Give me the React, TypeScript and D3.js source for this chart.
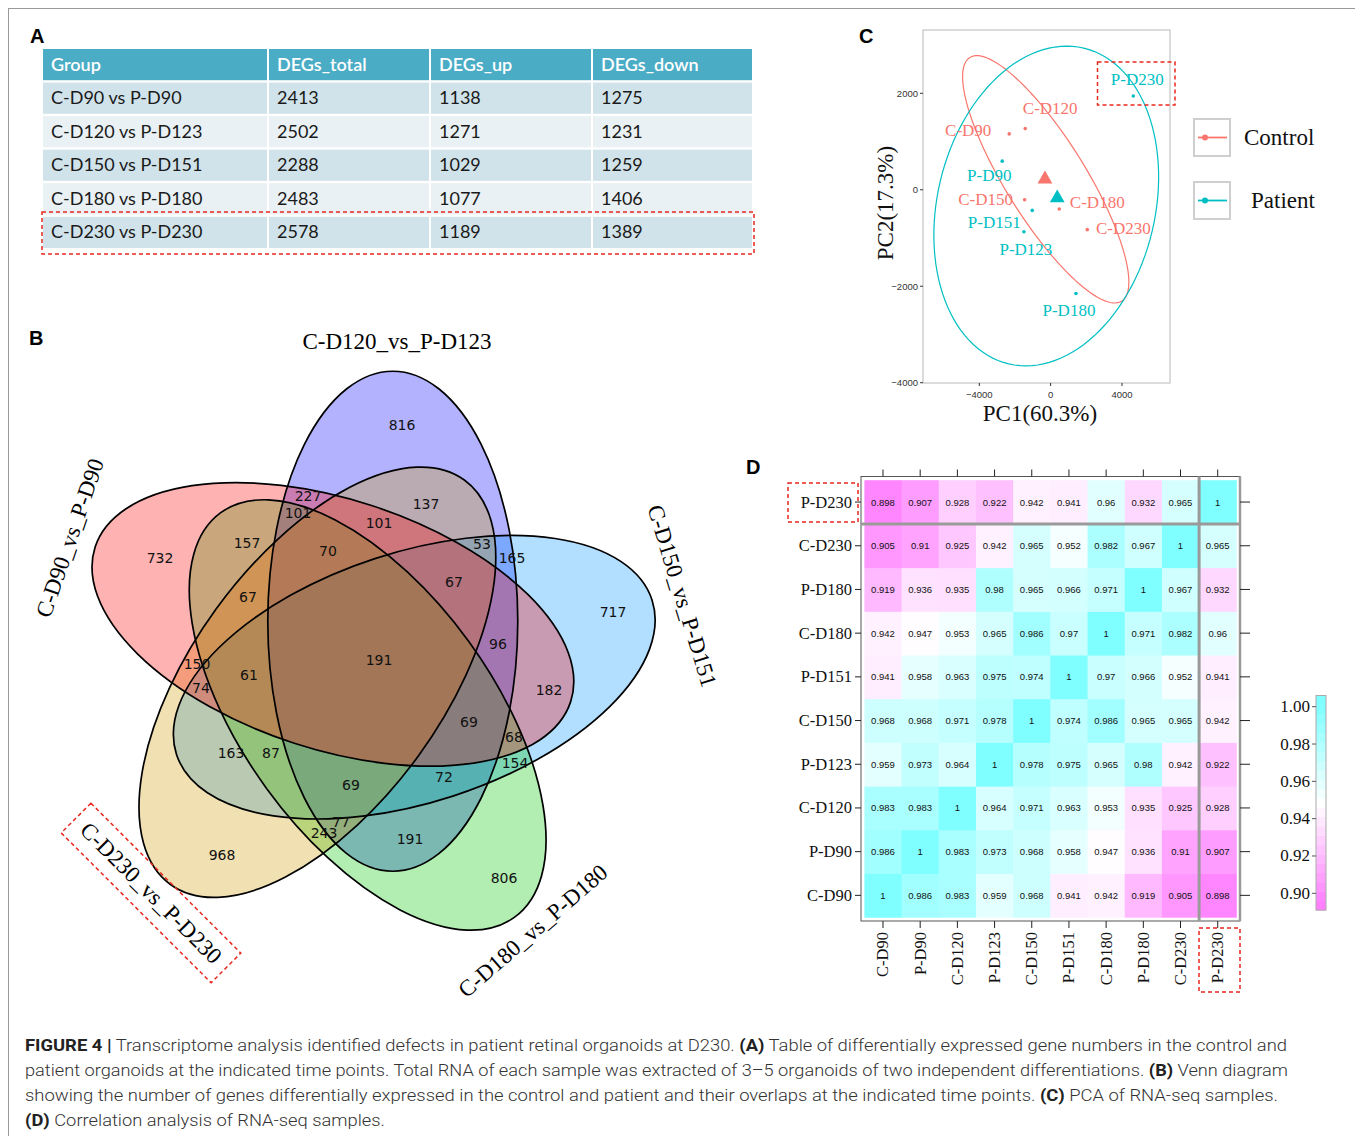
import React from 'react';
import * as d3 from 'd3';

const SERIF = "'Liberation Serif', 'Times New Roman', serif";
const SANS = "'Liberation Sans', Arial, sans-serif";
const DASH_RED = '#e8281e';

// ---------- Panel A: DEG table
const tableHeaders = ['Group', 'DEGs_total', 'DEGs_up', 'DEGs_down'];
const degGroups = ['C-D90 vs P-D90', 'C-D120 vs P-D123', 'C-D150 vs P-D151', 'C-D180 vs P-D180', 'C-D230 vs P-D230'];
const degTotal = [2413, 2502, 2288, 2483, 2578];
const degUp = [1138, 1271, 1029, 1077, 1189];
const degDown = [1275, 1231, 1259, 1406, 1389];

// ---------- Panel B: five-set Venn
const vennSets = ['C-D90_vs_P-D90', 'C-D120_vs_P-D123', 'C-D150_vs_P-D151', 'C-D180_vs_P-D180', 'C-D230_vs_P-D230'];
const vennCounts = [732, 816, 717, 806, 968, 227, 101, 137, 101, 70, 53, 165, 67, 96, 191, 157, 67, 150, 61, 74, 163, 87, 69, 77, 243, 191, 72, 69, 68, 154, 182];

// ---------- Panel C: PCA
const pcaSamples = ['C-D90', 'C-D120', 'C-D150', 'C-D180', 'C-D230', 'P-D90', 'P-D123', 'P-D151', 'P-D180', 'P-D230'];
const pcaGroup = ['Control', 'Control', 'Control', 'Control', 'Control', 'Patient', 'Patient', 'Patient', 'Patient', 'Patient'];
const pc1 = [-2323, -1425, -1459, 483, 2053, -2715, -1498, -1032, 1419, 4634];
const pc2 = [1158, 1268, -207, -400, -827, 593, -869, -428, -2151, 1944];
const groups = ['Control', 'Patient'];
const centroidPc1 = [-320, 370];
const centroidPc2 = [221, -172];
const pcaXTicks = [-4000, 0, 4000];
const pcaYTicks = [-4000, -2000, 0, 2000];

// ---------- Panel D: correlation heatmap
const hmSamples = ['C-D90', 'P-D90', 'C-D120', 'P-D123', 'C-D150', 'P-D151', 'C-D180', 'P-D180', 'C-D230', 'P-D230'];
const corr = [
  [1, 0.986, 0.983, 0.959, 0.968, 0.941, 0.942, 0.919, 0.905, 0.898],
  [0.986, 1, 0.983, 0.973, 0.968, 0.958, 0.947, 0.936, 0.91, 0.907],
  [0.983, 0.983, 1, 0.964, 0.971, 0.963, 0.953, 0.935, 0.925, 0.928],
  [0.959, 0.973, 0.964, 1, 0.978, 0.975, 0.965, 0.98, 0.942, 0.922],
  [0.968, 0.968, 0.971, 0.978, 1, 0.974, 0.986, 0.965, 0.965, 0.942],
  [0.941, 0.958, 0.963, 0.975, 0.974, 1, 0.97, 0.966, 0.952, 0.941],
  [0.942, 0.947, 0.953, 0.965, 0.986, 0.97, 1, 0.971, 0.982, 0.96],
  [0.919, 0.936, 0.935, 0.98, 0.965, 0.966, 0.971, 1, 0.967, 0.932],
  [0.905, 0.91, 0.925, 0.942, 0.965, 0.952, 0.982, 0.967, 1, 0.965],
  [0.898, 0.907, 0.928, 0.922, 0.942, 0.941, 0.96, 0.932, 0.965, 1],
];
const colorbarTicks = [0.9, 0.92, 0.94, 0.96, 0.98, 1.0];

// ---------- layout (positions / styles, kept apart from the data)
const tableCols = [43, 269, 431, 593, 754];
const vennCenter = { x: 365, y: 664 };
const vennOffset = 51;
const vennRx = 250;
const vennRy = 125;
const vennFill = ['rgb(255,0,0)', 'rgb(0,0,255)', 'rgb(0,150,255)', 'rgb(0,200,0)', 'rgb(205,152,0)'];
const vennDrawOrder = [1, 2, 3, 4, 0];
const vennLabelXY = [
  [160, 558], [402, 425], [613, 612], [504, 878], [222, 855], [308, 496], [298, 513], [426, 504],
  [379, 523], [328, 551], [482, 544], [512, 558], [454, 582], [498, 644], [379, 660], [247, 543],
  [248, 597], [197, 664], [249, 675], [201, 688], [231, 753], [271, 753], [351, 785], [341, 822],
  [324, 833], [410, 839], [444, 777], [469, 722], [514, 737], [515, 763], [549, 690],
];
const vennNamePos = [
  { x: 70, y: 538, r: -71 },
  { x: 397, y: 341, r: 0 },
  { x: 682, y: 596, r: 73 },
  { x: 533, y: 931, r: -41 },
  { x: 151, y: 893, r: 45 },
];
const pcaLabelOffset = [
  [-41, -3], [25, -20], [-39, 0], [38, -7], [36, -1],
  [-13, 14], [2, 18], [-38, 12], [-7, 17], [4, -17],
];
const groupColor = { Control: '#f8766d', Patient: '#00bfc4' };

function ellipsePath(
  cx: number, cy: number, ux: number, uy: number, vx: number, vy: number,
  sx: d3.ScaleLinear<number, number>, sy: d3.ScaleLinear<number, number>,
) {
  const pts = d3.range(0, 361, 3).map((deg) => {
    const t = (deg * Math.PI) / 180;
    return [sx(cx + Math.cos(t) * ux + Math.sin(t) * vx), sy(cy + Math.cos(t) * uy + Math.sin(t) * vy)] as [number, number];
  });
  return d3.line().curve(d3.curveLinearClosed)(pts) || '';
}

function PanelLabel({ x, y, t }: { x: number; y: number; t: string }) {
  return (
    <text x={x} y={y} fontFamily={SANS} fontWeight={700} fontSize={20} fill="#000">
      {t}
    </text>
  );
}

function TablePanel() {
  const rows = d3.scaleBand<number>().domain(d3.range(6)).range([49, 248]).paddingInner(0.07);
  const values = degGroups.map((g, i) => [g, degTotal[i], degUp[i], degDown[i]]);
  return (
    <g>
      <PanelLabel x={30} y={43} t="A" />
      {tableHeaders.map((h, c) => (
        <g key={h}>
          <rect x={tableCols[c]} y={rows(0)} width={tableCols[c + 1] - tableCols[c] - 2} height={rows.bandwidth()} fill="#4bacc6" />
          <text x={tableCols[c] + 8} y={(rows(0) || 0) + rows.bandwidth() / 2 + 6} fontFamily="Lato, 'Open Sans', sans-serif" fontSize={18} fontWeight={600} fill="#fff">
            {h}
          </text>
        </g>
      ))}
      {values.map((row, r) => (
        <g key={r}>
          {row.map((v, c) => (
            <g key={c}>
              <rect
                x={tableCols[c]}
                y={rows(r + 1)}
                width={tableCols[c + 1] - tableCols[c] - 2}
                height={rows.bandwidth()}
                fill={r % 2 === 0 ? '#d1e3ea' : '#e9f1f4'}
              />
              <text x={tableCols[c] + 8} y={(rows(r + 1) || 0) + rows.bandwidth() / 2 + 6} fontFamily="Lato, 'Open Sans', sans-serif" fontSize={18} fill="#1a1a1a">
                {String(v)}
              </text>
            </g>
          ))}
        </g>
      ))}
      <rect x={42} y={212} width={712} height={42} fill="none" stroke={DASH_RED} strokeWidth={1.5} strokeDasharray="4 3" />
    </g>
  );
}

function VennPanel() {
  const ell = vennSets.map((_, k) => {
    const alpha = ((129 - 72 * k) * Math.PI) / 180;
    const beta = 129 - 72 * k + 33;
    return {
      cx: vennCenter.x + vennOffset * Math.cos(alpha),
      cy: vennCenter.y - vennOffset * Math.sin(alpha),
      rot: -beta,
    };
  });
  return (
    <g>
      <PanelLabel x={29} y={345} t="B" />
      {vennDrawOrder.map((k) => (
        <ellipse
          key={`f${k}`}
          cx={0}
          cy={0}
          rx={vennRx}
          ry={vennRy}
          transform={`translate(${ell[k].cx},${ell[k].cy}) rotate(${ell[k].rot})`}
          fill={vennFill[k]}
          fillOpacity={0.3}
        />
      ))}
      {vennDrawOrder.map((k) => (
        <ellipse
          key={`s${k}`}
          cx={0}
          cy={0}
          rx={vennRx}
          ry={vennRy}
          transform={`translate(${ell[k].cx},${ell[k].cy}) rotate(${ell[k].rot})`}
          fill="none"
          stroke="#000"
          strokeWidth={1.7}
        />
      ))}
      {vennCounts.map((n, i) => (
        <text
          key={i}
          x={vennLabelXY[i][0]}
          y={vennLabelXY[i][1]}
          textAnchor="middle"
          dominantBaseline="central"
          fontFamily="'DejaVu Sans', sans-serif"
          fontSize={14}
          fill="#111"
        >
          {n}
        </text>
      ))}
      {vennSets.map((s, i) => (
        <text
          key={s}
          transform={`translate(${vennNamePos[i].x},${vennNamePos[i].y}) rotate(${vennNamePos[i].r})`}
          textAnchor="middle"
          dominantBaseline="central"
          fontFamily={SERIF}
          fontSize={23}
          fill="#000"
        >
          {s}
        </text>
      ))}
      <rect
        x={-106}
        y={-21}
        width={212}
        height={42}
        transform={`translate(${vennNamePos[4].x},${vennNamePos[4].y}) rotate(45)`}
        fill="none"
        stroke={DASH_RED}
        strokeWidth={1.5}
        strokeDasharray="4 3"
      />
    </g>
  );
}

function PcaPanel() {
  const x = d3.scaleLinear().domain([-4000, 4000]).range([979.3, 1122]);
  const y = d3.scaleLinear().domain([-4000, 2000]).range([382.7, 93.3]);
  const box = { x0: 923, x1: 1170, y0: 30, y1: 383 };
  const ctrlEllipse = ellipsePath(-275, 217, -4252, 2527, 1907, 436, x, y);
  const patEllipse = ellipsePath(-247, -337, 2098, 3274, 5941, -517, x, y);
  const tri = d3.symbol().type(d3.symbolTriangle).size(95)();
  return (
    <g>
      <PanelLabel x={859} y={43} t="C" />
      <rect x={box.x0} y={box.y0} width={box.x1 - box.x0} height={box.y1 - box.y0} fill="#fff" stroke="#c8c8c8" strokeWidth={1.3} />
      <path d={ctrlEllipse} fill="none" stroke={groupColor.Control} strokeWidth={1.2} />
      <path d={patEllipse} fill="none" stroke={groupColor.Patient} strokeWidth={1.2} />
      {pcaSamples.map((s, i) => {
        const c = groupColor[pcaGroup[i] as 'Control' | 'Patient'];
        const px = x(pc1[i]);
        const py = y(pc2[i]);
        return (
          <g key={s}>
            <circle cx={px} cy={py} r={1.8} fill={c} />
            <text
              x={px + pcaLabelOffset[i][0]}
              y={py + pcaLabelOffset[i][1]}
              textAnchor="middle"
              dominantBaseline="central"
              fontFamily={SERIF}
              fontSize={17}
              fill={c}
            >
              {s}
            </text>
          </g>
        );
      })}
      {groups.map((g, i) => (
        <path key={g} d={tri || ''} transform={`translate(${x(centroidPc1[i])},${y(centroidPc2[i])})`} fill={groupColor[g as 'Control' | 'Patient']} />
      ))}
      <rect x={1097.5} y={62} width={77.5} height={43} fill="none" stroke={DASH_RED} strokeWidth={1.5} strokeDasharray="4 3" />
      {pcaYTicks.map((t) => (
        <g key={t}>
          <line x1={box.x0 - 3} x2={box.x0} y1={y(t)} y2={y(t)} stroke="#333" strokeWidth={1} />
          <text x={box.x0 - 5} y={y(t)} textAnchor="end" dominantBaseline="central" fontFamily={SANS} fontSize={9.5} fill="#333">
            {t < 0 ? `\u2212${Math.abs(t)}` : t}
          </text>
        </g>
      ))}
      {pcaXTicks.map((t) => (
        <g key={t}>
          <line x1={x(t)} x2={x(t)} y1={box.y1} y2={box.y1 + 3} stroke="#333" strokeWidth={1} />
          <text x={x(t)} y={box.y1 + 11} textAnchor="middle" dominantBaseline="central" fontFamily={SANS} fontSize={9.5} fill="#333">
            {t < 0 ? `\u2212${Math.abs(t)}` : t}
          </text>
        </g>
      ))}
      <text x={1040} y={413} textAnchor="middle" dominantBaseline="central" fontFamily={SERIF} fontSize={23} fill="#111">
        PC1(60.3%)
      </text>
      <text transform="translate(885,203) rotate(-90)" textAnchor="middle" dominantBaseline="central" fontFamily={SERIF} fontSize={23} fill="#111">
        PC2(17.3%)
      </text>
      {groups.map((g, i) => {
        const by = 119 + i * 63;
        const c = groupColor[g as 'Control' | 'Patient'];
        return (
          <g key={g}>
            <rect x={1194} y={by} width={36} height={37} fill="#fff" stroke="#cfcfcf" strokeWidth={2} />
            <line x1={1198} x2={1227} y1={by + 18.5} y2={by + 18.5} stroke={c} strokeWidth={1.8} />
            <circle cx={1205} cy={by + 18.5} r={3} fill={c} />
            <text x={i === 0 ? 1244 : 1251} y={by + 18.5} dominantBaseline="central" fontFamily={SERIF} fontSize={23} fill="#111">
              {g}
            </text>
          </g>
        );
      })}
    </g>
  );
}

function HeatmapPanel() {
  const x = d3.scaleBand().domain(hmSamples).range([864.4, 1236.3]);
  const y = d3.scaleBand().domain([...hmSamples].reverse()).range([480.2, 917.2]);
  const color = d3.scaleLinear<string>().domain([0.895, 0.948, 1]).range(['#ff7fff', '#ffffff', '#7fffff']).clamp(true);
  const cb = d3.scaleLinear().domain([0.9, 1.0]).range([893.3, 706.7]);
  const bands = d3.range(0.891, 1.006, 0.005);
  const frame = { x0: 861, x1: 1240, y0: 476.5, y1: 921 };
  const last = hmSamples[hmSamples.length - 1];
  return (
    <g>
      <PanelLabel x={746} y={474} t="D" />
      {hmSamples.map((rowS, i) =>
        hmSamples.map((colS, j) => (
          <rect key={`${i}-${j}`} x={x(colS)} y={y(rowS)} width={x.bandwidth() + 0.5} height={y.bandwidth() + 0.5} fill={color(corr[i][j])} />
        )),
      )}
      {hmSamples.map((rowS, i) =>
        hmSamples.map((colS, j) => (
          <text
            key={`t${i}-${j}`}
            x={(x(colS) || 0) + x.bandwidth() / 2}
            y={(y(rowS) || 0) + y.bandwidth() / 2}
            textAnchor="middle"
            dominantBaseline="central"
            fontFamily={SANS}
            fontSize={9.5}
            fill="#111"
          >
            {String(corr[i][j])}
          </text>
        )),
      )}
      <rect x={frame.x0} y={frame.y0} width={frame.x1 - frame.x0} height={frame.y1 - frame.y0} fill="none" stroke="#555" strokeWidth={1} />
      <line x1={frame.x0} x2={frame.x1} y1={(y(last) || 0) + y.bandwidth()} y2={(y(last) || 0) + y.bandwidth()} stroke="#9a9a9a" strokeWidth={3} />
      <line x1={x(last)} x2={x(last)} y1={frame.y0} y2={frame.y1} stroke="#9a9a9a" strokeWidth={3} />
      <line x1={frame.x1} x2={frame.x1} y1={frame.y0} y2={frame.y1} stroke="#9a9a9a" strokeWidth={2.5} />
      {hmSamples.map((s) => {
        const cx = (x(s) || 0) + x.bandwidth() / 2;
        const cy = (y(s) || 0) + y.bandwidth() / 2;
        return (
          <g key={s}>
            <line x1={cx} x2={cx} y1={frame.y0 - 7} y2={frame.y0} stroke="#222" />
            <line x1={cx} x2={cx} y1={frame.y1} y2={frame.y1 + 7} stroke="#222" />
            <line x1={frame.x0 - 6} x2={frame.x0} y1={cy} y2={cy} stroke="#222" />
            <line x1={frame.x1} x2={frame.x1 + 10} y1={cy} y2={cy} stroke="#222" />
            <text x={frame.x0 - 9} y={cy} textAnchor="end" dominantBaseline="central" fontFamily={SERIF} fontSize={16.5} fill="#111">
              {s}
            </text>
            <text transform={`translate(${cx},${frame.y1 + 11}) rotate(-90)`} textAnchor="end" dominantBaseline="central" fontFamily={SERIF} fontSize={16.5} fill="#111">
              {s}
            </text>
          </g>
        );
      })}
      <rect x={788} y={483} width={70} height={39} fill="none" stroke={DASH_RED} strokeWidth={1.5} strokeDasharray="4 3" />
      <rect x={1199} y={928} width={41} height={64} fill="none" stroke={DASH_RED} strokeWidth={1.5} strokeDasharray="4 3" />
      {bands.map((b) => (
        <rect key={b} x={1316} y={cb(b + 0.005)} width={10} height={cb(b) - cb(b + 0.005) + 0.4} fill={color(b + 0.0025)} />
      ))}
      <rect x={1316} y={cb(1.006)} width={10} height={cb(0.891) - cb(1.006)} fill="none" stroke="#aaa" strokeWidth={1} />
      {colorbarTicks.map((t) => (
        <g key={t}>
          <line x1={1312} x2={1316} y1={cb(t)} y2={cb(t)} stroke="#555" />
          <text x={1310} y={cb(t)} textAnchor="end" dominantBaseline="central" fontFamily={SERIF} fontSize={17} fill="#111">
            {t.toFixed(2)}
          </text>
        </g>
      ))}
    </g>
  );
}

function Caption() {
  const base = { fontFamily: "Roboto, 'Liberation Sans', sans-serif", fontSize: 17, fill: '#333', fontWeight: 300 };
  return (
    <g {...base}>
      <text x={25} y={1051} textLength={1262} lengthAdjust="spacingAndGlyphs">
        <tspan fontWeight={700} fill="#222">FIGURE 4 |</tspan> Transcriptome analysis identified defects in patient retinal organoids at D230.{' '}
        <tspan fontWeight={700} fill="#222">(A)</tspan> Table of differentially expressed gene numbers in the control and
      </text>
      <text x={25} y={1076} textLength={1263} lengthAdjust="spacingAndGlyphs">
        patient organoids at the indicated time points. Total RNA of each sample was extracted of 3–5 organoids of two independent differentiations.{' '}
        <tspan fontWeight={700} fill="#222">(B)</tspan> Venn diagram
      </text>
      <text x={25} y={1101} textLength={1253} lengthAdjust="spacingAndGlyphs">
        showing the number of genes differentially expressed in the control and patient and their overlaps at the indicated time points.{' '}
        <tspan fontWeight={700} fill="#222">(C)</tspan> PCA of RNA-seq samples.
      </text>
      <text x={25} y={1126} textLength={360} lengthAdjust="spacingAndGlyphs">
        <tspan fontWeight={700} fill="#222">(D)</tspan> Correlation analysis of RNA-seq samples.
      </text>
    </g>
  );
}

export default function App() {
  return (
    <div style={{ position: 'absolute', left: 0, top: 0 }}>
      <svg width={1355} height={1136} viewBox="0 0 1355 1136" style={{ display: 'block', background: '#fff' }}>
        <rect x={0} y={0} width={1355} height={1136} fill="#fff" />
        <line x1={8.5} x2={8.5} y1={8} y2={1136} stroke="#999" strokeWidth={1} />
        <line x1={8} x2={1355} y1={8.5} y2={8.5} stroke="#999" strokeWidth={1} />
        <TablePanel />
        <VennPanel />
        <PcaPanel />
        <HeatmapPanel />
        <Caption />
      </svg>
    </div>
  );
}
